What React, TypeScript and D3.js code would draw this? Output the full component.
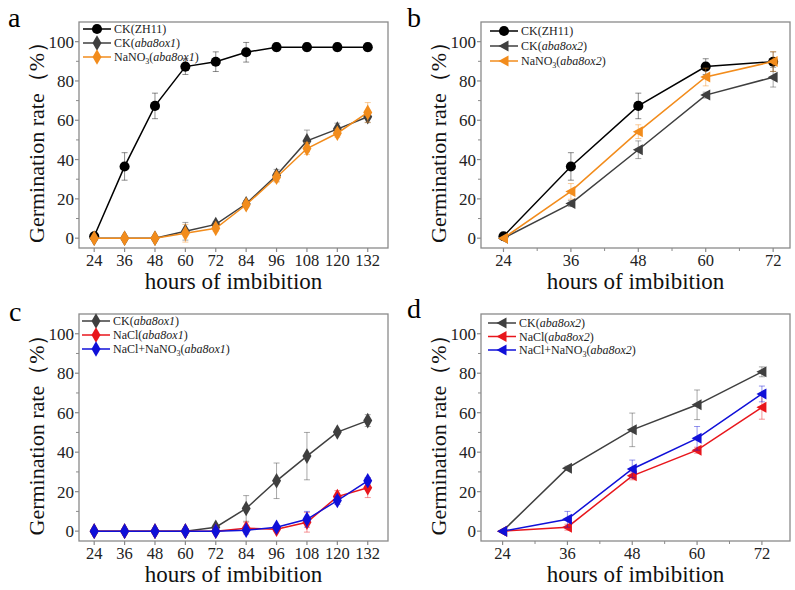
import React from "react";
import * as d3 from "d3";

// ---------- DATA ----------
const hoursLong = [24, 36, 48, 60, 72, 84, 96, 108, 120, 132];
const hoursShort = [24, 36, 48, 60, 72];

// Panel a
const aCKZH11 = [1, 36.5, 67.3, 87.3, 89.8, 94.6, 97.2, 97.2, 97.2, 97.2];
const aCKZH11Err = [1, 7, 6.5, 4, 5, 5, 2, 2, 2, 2];
const aCKox1 = [0, 0, 0, 3.5, 7, 17.5, 32, 49.5, 55.5, 61.8];
const aCKox1Err = [0, 0, 0, 4.5, 1.5, 1.5, 3, 5.5, 3, 3];
const aNaNO3ox1 = [0, 0, 0, 2.5, 5, 17, 31, 45.6, 53.4, 64];
const aNaNO3ox1Err = [0, 0, 0, 4.5, 1.5, 1.5, 2.5, 3, 2, 5];

// Panel b
const bCKZH11 = [1, 36.5, 67.3, 87.3, 89.8];
const bCKZH11Err = [1, 7, 6.5, 4, 5];
const bCKox2 = [0, 17.6, 45, 72.8, 81.9];
const bCKox2Err = [0, 1.5, 4.5, 1.5, 5];
const bNaNO3ox2 = [0, 23.8, 54.2, 82, 89.9];
const bNaNO3ox2Err = [0, 4, 3.5, 4.5, 5];

// Panel c
const cCKox1 = [0, 0, 0, 0, 2, 11.5, 25.5, 38, 50.2, 56];
const cCKox1Err = [0, 0, 0, 0, 1, 6.5, 9, 12, 1, 3];
const cNaClox1 = [0, 0, 0, 0, 0, 1.5, 1, 4.5, 17.5, 22];
const cNaClox1Err = [0, 0, 0, 0, 0, 3, 1, 5, 3, 5];
const cNaClNO3ox1 = [0, 0, 0, 0, 0, 0.5, 2, 6, 15.5, 25.5];
const cNaClNO3ox1Err = [0, 0, 0, 0, 0, 0.5, 1, 4, 2, 1.5];

// Panel d
const dCKox2 = [0, 31.9, 51.3, 64, 80.7];
const dCKox2Err = [0, 1, 8.5, 7.5, 2.5];
const dNaClox2 = [0, 2, 28, 41, 62.7];
const dNaClox2Err = [0, 1.5, 2, 1.5, 6];
const dNaClNO3ox2 = [0, 6, 31.5, 47, 69.5];
const dNaClNO3ox2Err = [0, 4, 4.5, 6, 4];

const yTicks = [0, 20, 40, 60, 80, 100];
const yMinor = [10, 30, 50, 70, 90];

// ---------- STYLE ----------
const BLACK = "#000000";
const GRAY = "#3f3f3f";
const ORANGE = "#f28c1c";
const RED = "#e8161c";
const BLUE = "#1010d8";
const FRAME = "#8a8a8a";
const FONT = "'Liberation Serif', 'Times New Roman', 'DejaVu Serif', serif";
const serif = { fontFamily: FONT };

type Marker = "circle" | "diamond" | "triLeft";

interface Series {
  values: number[];
  errors: number[];
  color: string;
  marker: Marker;
  label: React.ReactNode;
}

function markerPath(m: Marker): string {
  if (m === "circle") return d3.symbol(d3.symbolCircle, 80)() as string;
  if (m === "diamond") return d3.symbol(d3.symbolDiamond, 70)() as string;
  return "M-5.5,0L4.5,-5.5L4.5,5.5Z";
}

interface PanelProps {
  letter: string;
  letterX: number;
  letterY: number;
  left: number;
  right: number;
  top: number;
  bottom: number;
  xDomain: [number, number];
  hours: number[];
  minorX: number[];
  series: Series[];
  legendX: number;
  legendY: number;
  legendGap: number;
}

function Panel(p: PanelProps) {
  const x = d3.scaleLinear().domain(p.xDomain).range([p.left, p.right]);
  const y = d3.scaleLinear().domain([-5, 110]).range([p.bottom, p.top]);
  const line = d3
    .line<number>()
    .x((_, i) => x(p.hours[i]))
    .y((v) => y(v));
  const midX = (p.left + p.right) / 2;
  const midY = (p.top + p.bottom) / 2;
  return (
    <g style={serif}>
      <text x={p.letterX} y={p.letterY} fontSize={28} style={serif}>
        {p.letter}
      </text>
      <rect
        x={p.left}
        y={p.top}
        width={p.right - p.left}
        height={p.bottom - p.top}
        fill="none"
        stroke={FRAME}
        strokeWidth={1.3}
      />
      {yTicks.map((t) => (
        <g key={"y" + t}>
          <line x1={p.left - 4} x2={p.left} y1={y(t)} y2={y(t)} stroke={FRAME} strokeWidth={1.2} />
          <text x={p.left - 5} y={y(t)} dy="0.35em" textAnchor="end" fontSize={17} fill="#222" style={serif}>
            {t}
          </text>
        </g>
      ))}
      {yMinor.map((t) => (
        <line key={"ym" + t} x1={p.left - 3} x2={p.left} y1={y(t)} y2={y(t)} stroke={FRAME} strokeWidth={1} />
      ))}
      {p.hours.map((h) => (
        <g key={"x" + h}>
          <line x1={x(h)} x2={x(h)} y1={p.bottom} y2={p.bottom + 4} stroke={FRAME} strokeWidth={1.2} />
          <text x={x(h)} y={p.bottom + 18} textAnchor="middle" fontSize={16.5} fill="#222" style={serif}>
            {h}
          </text>
        </g>
      ))}
      {p.minorX.map((h) => (
        <line key={"xm" + h} x1={x(h)} x2={x(h)} y1={p.bottom} y2={p.bottom + 3} stroke={FRAME} strokeWidth={1} />
      ))}
      <text x={midX} y={p.bottom + 41} textAnchor="middle" fontSize={23} fill="#111" style={serif}>
        hours of imbibition
      </text>
      <text
        transform={`translate(${p.left - 35},${midY + 2}) rotate(-90)`}
        textAnchor="middle"
        fontSize={22}
        fill="#111"
        style={serif}
      >
        Germination rate（%）
      </text>
      {p.series.map((s, si) => (
        <g key={"s" + si}>
          <path d={line(s.values) as string} fill="none" stroke={s.color} strokeWidth={1.5} />
          {s.values.map((v, i) =>
            s.errors[i] > 0.6 ? (
              <g key={"e" + i} stroke={s.color} strokeOpacity={0.45} strokeWidth={1}>
                <line x1={x(p.hours[i])} x2={x(p.hours[i])} y1={y(v - s.errors[i])} y2={y(v + s.errors[i])} />
                <line x1={x(p.hours[i]) - 3} x2={x(p.hours[i]) + 3} y1={y(v - s.errors[i])} y2={y(v - s.errors[i])} />
                <line x1={x(p.hours[i]) - 3} x2={x(p.hours[i]) + 3} y1={y(v + s.errors[i])} y2={y(v + s.errors[i])} />
              </g>
            ) : null
          )}
          {s.values.map((v, i) => (
            <path
              key={"m" + i}
              d={markerPath(s.marker)}
              transform={`translate(${x(p.hours[i])},${y(v)})`}
              fill={s.color}
            />
          ))}
        </g>
      ))}
      {p.series.map((s, si) => {
        const ly = p.legendY + si * p.legendGap;
        return (
          <g key={"l" + si}>
            <line x1={p.legendX} x2={p.legendX + 28} y1={ly} y2={ly} stroke={s.color} strokeWidth={1.5} />
            <path d={markerPath(s.marker)} transform={`translate(${p.legendX + 14},${ly})`} fill={s.color} />
            <text x={p.legendX + 31} y={ly} dy="0.35em" fontSize={12} fill="#222" style={serif}>
              {s.label}
            </text>
          </g>
        );
      })}
    </g>
  );
}

const it = (s: string) => <tspan fontStyle="italic">{s}</tspan>;
const sub3 = (
  <tspan fontSize={8} dy={3}>
    3
  </tspan>
);

export default function App() {
  return (
    <svg width={795} height={590} style={{ position: "absolute", left: 0, top: 0, background: "#fff" }}>
      <rect width={795} height={590} fill="#fff" />
      <Panel
        letter="a"
        letterX={8}
        letterY={27}
        left={79}
        right={388}
        top={22}
        bottom={248}
        xDomain={[18, 140]}
        hours={hoursLong}
        minorX={[]}
        legendX={83}
        legendY={29}
        legendGap={14}
        series={[
          { values: aCKZH11, errors: aCKZH11Err, color: BLACK, marker: "circle", label: "CK(ZH11)" },
          { values: aCKox1, errors: aCKox1Err, color: GRAY, marker: "diamond", label: <>CK({it("aba8ox1")})</> },
          {
            values: aNaNO3ox1,
            errors: aNaNO3ox1Err,
            color: ORANGE,
            marker: "diamond",
            label: (
              <>
                NaNO{sub3}
                <tspan dy={-3}>(</tspan>
                {it("aba8ox1")})
              </>
            ),
          },
        ]}
      />
      <Panel
        letter="b"
        letterX={407}
        letterY={27}
        left={481}
        right={790}
        top={22}
        bottom={248}
        xDomain={[20, 75]}
        hours={hoursShort}
        minorX={[30, 42, 54, 66]}
        legendX={490}
        legendY={31}
        legendGap={15}
        series={[
          { values: bCKZH11, errors: bCKZH11Err, color: BLACK, marker: "circle", label: "CK(ZH11)" },
          { values: bCKox2, errors: bCKox2Err, color: GRAY, marker: "triLeft", label: <>CK({it("aba8ox2")})</> },
          {
            values: bNaNO3ox2,
            errors: bNaNO3ox2Err,
            color: ORANGE,
            marker: "triLeft",
            label: (
              <>
                NaNO{sub3}
                <tspan dy={-3}>(</tspan>
                {it("aba8ox2")})
              </>
            ),
          },
        ]}
      />
      <Panel
        letter="c"
        letterX={9}
        letterY={321}
        left={79}
        right={388}
        top={314}
        bottom={541}
        xDomain={[18, 140]}
        hours={hoursLong}
        minorX={[]}
        legendX={82}
        legendY={321}
        legendGap={14}
        series={[
          { values: cCKox1, errors: cCKox1Err, color: GRAY, marker: "diamond", label: <>CK({it("aba8ox1")})</> },
          { values: cNaClox1, errors: cNaClox1Err, color: RED, marker: "diamond", label: <>NaCl({it("aba8ox1")})</> },
          {
            values: cNaClNO3ox1,
            errors: cNaClNO3ox1Err,
            color: BLUE,
            marker: "diamond",
            label: (
              <>
                NaCl+NaNO{sub3}
                <tspan dy={-3}>(</tspan>
                {it("aba8ox1")})
              </>
            ),
          },
        ]}
      />
      <Panel
        letter="d"
        letterX={407}
        letterY={318}
        left={481}
        right={790}
        top={314}
        bottom={541}
        xDomain={[20, 77.2]}
        hours={hoursShort}
        minorX={[30, 42, 54, 66]}
        legendX={488}
        legendY={323}
        legendGap={13.5}
        series={[
          { values: dCKox2, errors: dCKox2Err, color: GRAY, marker: "triLeft", label: <>CK({it("aba8ox2")})</> },
          { values: dNaClox2, errors: dNaClox2Err, color: RED, marker: "triLeft", label: <>NaCl({it("aba8ox2")})</> },
          {
            values: dNaClNO3ox2,
            errors: dNaClNO3ox2Err,
            color: BLUE,
            marker: "triLeft",
            label: (
              <>
                NaCl+NaNO{sub3}
                <tspan dy={-3}>(</tspan>
                {it("aba8ox2")})
              </>
            ),
          },
        ]}
      />
    </svg>
  );
}
